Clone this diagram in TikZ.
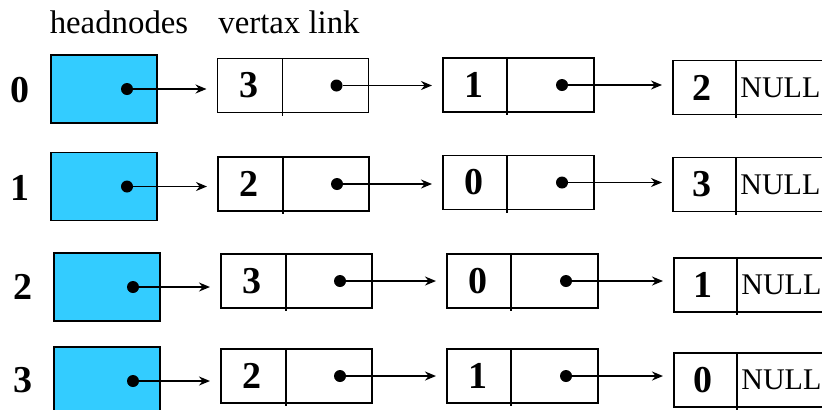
\documentclass[tikz,border=0pt]{standalone}
\usepackage{fontspec}
\setmainfont{Liberation Serif}
\usetikzlibrary{arrows.meta}
\definecolor{headcyan}{RGB}{51,204,255}
\begin{document}
\begin{tikzpicture}[x=0.5pt,y=-0.5pt,
  head/.style={draw, line width=0.9pt, fill=headcyan, minimum width=53pt, minimum height=34pt, inner sep=0pt, outer sep=0pt},
  cell/.style={draw, line width=0.9pt, minimum width=75.5pt, minimum height=27pt, inner sep=0pt, outer sep=0pt},
  tailcell/.style={draw, line width=0.9pt, minimum width=95pt, minimum height=27pt, inner sep=0pt, outer sep=0pt},
  divider/.style={line width=0.9pt},
  ptr/.style={circle, fill=black, minimum size=6pt, inner sep=0pt},
  link/.style={-{Stealth[length=5.5pt,width=4.5pt]}, line width=0.8pt, shorten >=5.5pt},
  num/.style={font=\bfseries\fontsize{19}{19}\selectfont, inner sep=0pt},
  nul/.style={font=\fontsize{15}{15}\selectfont, inner sep=0pt, anchor=west},
  hdr/.style={font=\fontsize{16.4}{16.4}\selectfont, inner sep=0pt, anchor=base}]
\useasboundingbox (0,0) rectangle (822,409);
\clip (0,0) rectangle (822,409);

% column headings
\node[hdr] (hhead) at (119,33) {headnodes};
\node[hdr] (hlink) at (289,33) {vertax link};

% one adjacency list per vertex
\foreach \r/\lx/\ly/\hx/\hy/\ax/\ay/\bx/\by/\cx/\cy/\p/\q/\s/\hd in {
  0/20/90/104/89/293/85.5/518.5/85/768/87.5/3/1/2/38,
  1/20/188/104/186.5/293.5/184/518.5/182.5/768/184.5/2/0/3/38,
  2/23/287/107/287/296.5/281/522.5/281/769/285/3/0/1/39.5,
  3/23/380/107/381/296.5/376/522.5/376/769/380/2/1/0/39.5}
{
  \node[num] (lab\r) at (\lx,\ly) {\r};
  \node[head] (h\r) at (\hx,\hy) {};
  \node[cell] (a\r) at (\ax,\ay) {};
  \node[cell] (b\r) at (\bx,\by) {};
  \node[tailcell] (c\r) at (\cx,\cy) {};
  % field separators
  \draw[divider] ([xshift=32.5pt]a\r.north west) -- ([xshift=32.5pt,yshift=-1.5pt]a\r.south west);
  \draw[divider] ([xshift=32pt]b\r.north west) -- ([xshift=32pt,yshift=-1.5pt]b\r.south west);
  \draw[divider] ([xshift=31.5pt]c\r.north west) -- ([xshift=31.5pt,yshift=-1.5pt]c\r.south west);
  % vertex fields
  \node[num] (av\r) at ([xshift=15.5pt]a\r.west) {\p};
  \node[num] (bv\r) at ([xshift=15.5pt]b\r.west) {\q};
  \node[num] (cv\r) at ([xshift=14.5pt]c\r.west) {\s};
  \node[nul] (cn\r) at ([xshift=33.5pt]c\r.west) {NULL};
  % link pointers
  \node[ptr] (hp\r) at ([xshift=\hd pt]h\r.west) {};
  \node[ptr] (ap\r) at ([xshift=59.5pt]a\r.west) {};
  \node[ptr] (bp\r) at ([xshift=59.5pt]b\r.west) {};
  \draw[link] (hp\r) -- (a\r.west |- hp\r);
  \draw[link] (ap\r) -- (b\r.west |- ap\r);
  \draw[link] (bp\r) -- (c\r.west |- bp\r);
}
\end{tikzpicture}
\end{document}
